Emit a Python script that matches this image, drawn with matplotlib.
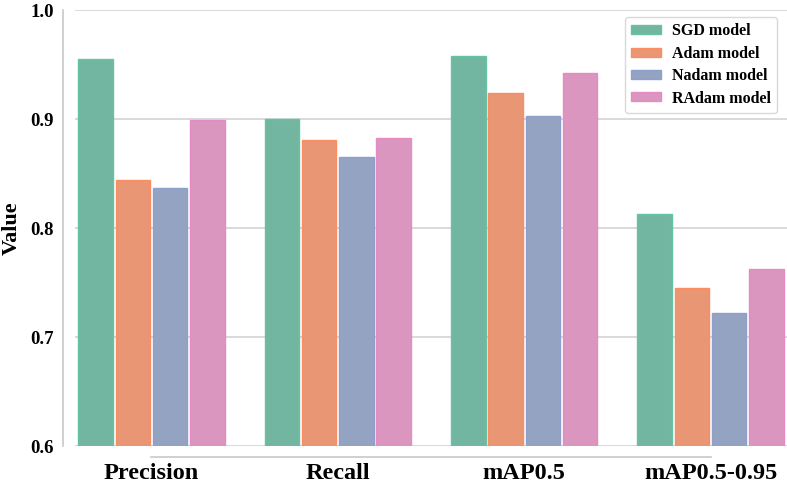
import matplotlib
matplotlib.use("Agg")
import matplotlib.pyplot as plt
import numpy as np
import seaborn as sns

categories = ["Precision", "Recall", "mAP0.5", "mAP0.5-0.95"]
models = ["SGD model", "Adam model", "Nadam model", "RAdam model"]
sgd = [0.955, 0.900, 0.958, 0.813]
adam = [0.844, 0.881, 0.924, 0.745]
nadam = [0.837, 0.865, 0.903, 0.722]
radam = [0.899, 0.883, 0.942, 0.762]
series = [sgd, adam, nadam, radam]
yticks = [0.6, 0.7, 0.8, 0.9, 1.0]

plt.rcParams['font.family'] = ['Liberation Serif', 'DejaVu Serif']
plt.rcParams['font.weight'] = 'bold'

base = sns.color_palette("Set2", 4)
fills = [sns.desaturate(c, 0.75) for c in base]

fig = plt.figure(figsize=(7.87, 4.86), dpi=100)
ax = fig.add_axes([0.0953, 0.0823, 0.9047, 0.8971])

x = np.arange(len(categories))
slot = 0.2
for i, (vals, name) in enumerate(zip(series, models)):
    pos = x - 0.4 + slot * (i + 0.5)
    ax.bar(pos, np.array(vals) - 0.6, bottom=0.6, width=0.185,
           color=fills[i], edgecolor=base[i], linewidth=1.0, label=name, zorder=3)

ax.set_ylim(0.6, 1.0)
ax.set_xlim(-0.41, 3.41)
ax.set_yticks(yticks)
ax.set_yticklabels([f"{v:.1f}" for v in yticks], fontweight='bold')
ax.set_xticks(x)
ax.set_xticklabels(categories, fontweight='bold')
ax.tick_params(axis='both', length=0)
ax.tick_params(axis='y', pad=6, labelsize=13.5)
ax.tick_params(axis='x', pad=4, labelsize=17.5)
ax.set_ylabel("Value", fontsize=16, fontweight='bold', labelpad=6)

ax.yaxis.grid(True, color='#d3d3d3', linewidth=1.2, zorder=0)
ax.set_axisbelow(True)

for s in ['top', 'right']:
    ax.spines[s].set_visible(False)
ax.spines['left'].set_position(('outward', 9))
ax.spines['bottom'].set_position(('outward', 8))
ax.spines['left'].set_color('#c8c8c8')
ax.spines['bottom'].set_color('#c8c8c8')
ax.spines['left'].set_linewidth(1.2)
ax.spines['bottom'].set_linewidth(1.2)
ax.spines['bottom'].set_bounds(0, 3)
ax.spines['left'].set_bounds(0.6, 1.0)

leg = ax.legend(loc='upper right', bbox_to_anchor=(0.986, 0.984),
                prop={'weight': 'bold', 'size': 11.5}, frameon=True,
                handlelength=1.9, handleheight=0.5, borderpad=0.4,
                labelspacing=0.4, handletextpad=0.65, borderaxespad=0.0)
leg.get_frame().set_edgecolor('#d0d0d0')

fig.savefig("out.png", dpi=100)
